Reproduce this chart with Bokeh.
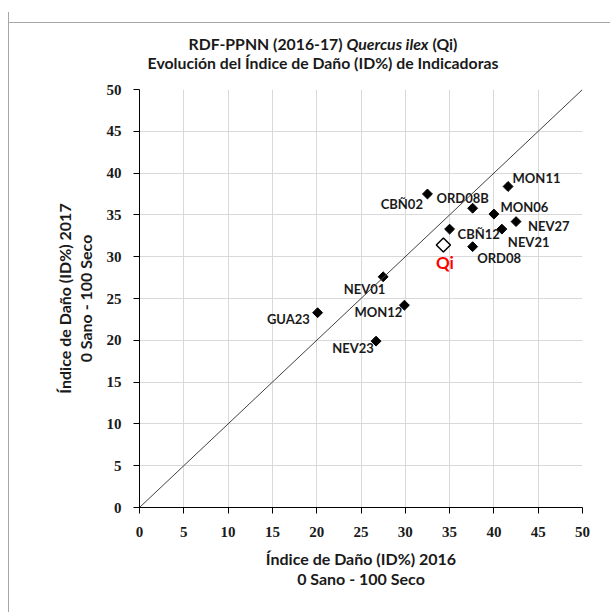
from bokeh.plotting import figure
from bokeh.models import ColumnDataSource, FixedTicker, Slope, Div
from bokeh.layouts import column, row
from bokeh.core.properties import value
from bokeh.embed import file_html
from bokeh.resources import INLINE
import math

# ---- data ----
names = ["MON11", "CBÑ02", "ORD08B", "MON06", "NEV27", "CBÑ12", "NEV21",
         "ORD08", "NEV01", "GUA23", "MON12", "NEV23"]
id2016 = [41.6, 32.5, 37.6, 40.0, 42.5, 35.0, 40.9, 37.6, 27.5, 20.1, 29.9, 26.7]
id2017 = [38.4, 37.5, 35.8, 35.1, 34.2, 33.3, 33.3, 31.2, 27.6, 23.3, 24.2, 19.9]
qi_name = ["Qi"]
qi2016 = [34.3]
qi2017 = [31.4]
ticks = [0, 5, 10, 15, 20, 25, 30, 35, 40, 45, 50]
title_1a = "RDF-PPNN (2016-17)"
title_1b = "Quercus ilex"
title_1c = "(Qi)"
title_2 = "Evolución del Índice de Daño (ID%) de Indicadoras"

# label placement (screen px relative to marker) - style only
lab_dx = [4.5, -4.5, -10, 6.5, 12, 8, 6, 4.5, -18.7, -7.7, -2, -2.3]
lab_dy = [-8.5, 10, -10, -7, 4.5, 5, 13, 11, 12, 6, 7, 6.5]
lab_align = ["left", "right", "center", "left", "left", "left", "left",
             "left", "center", "right", "right", "right"]

FONT = "Lato"
TXT = "#1a1a1a"
BORDER = "#a6a6a6"

p = figure(width=601, height=540, output_backend="svg", toolbar_location=None,
           x_range=(0, 50), y_range=(0, 50),
           min_border_left=130, min_border_right=28, min_border_top=17,
           min_border_bottom=105, margin=0)
p.outline_line_color = None
p.background_fill_color = "white"
p.border_fill_color = "white"

for ax in (p.xaxis, p.yaxis):
    ax.ticker = FixedTicker(ticks=ticks)
    ax.minor_tick_line_color = None
    ax.major_tick_in = 0
    ax.major_tick_out = 6
    ax.axis_line_color = "black"
    ax.major_tick_line_color = "black"
    ax.major_label_text_font = "Liberation Serif"
    ax.major_label_text_font_style = "bold"
    ax.major_label_text_font_size = "15px"
    ax.major_label_text_color = TXT
    ax.axis_label_text_font = FONT
    ax.axis_label_text_font_style = "bold"
    ax.axis_label_text_font_size = "16px"
    ax.axis_label_text_color = TXT
    ax.axis_label_text_line_height = 1.1

p.xaxis.major_label_standoff = 13
p.yaxis.major_label_standoff = 12
p.xaxis.axis_label = "Índice de Daño (ID%) 2016\n0 Sano - 100 Seco"
p.yaxis.axis_label = "Índice de Daño (ID%) 2017\n0 Sano - 100 Seco"
p.xaxis.axis_label_standoff = 9
p.yaxis.axis_label_standoff = 9

p.xgrid.ticker = FixedTicker(ticks=ticks[1:-1])
p.ygrid.ticker = FixedTicker(ticks=ticks[1:])
p.grid.grid_line_color = "#d9d9d9"
p.grid.grid_line_width = 1

# 1:1 line
p.add_layout(Slope(gradient=1, y_intercept=0, line_color="#404040", line_width=1))

src = ColumnDataSource(dict(x=id2016, y=id2017, name=names, dx=lab_dx, dy=lab_dy, al=lab_align))
p.scatter("x", "y", source=src, marker="square", angle=math.pi / 4, size=7,
          fill_color="black", line_color="black")
p.text("x", "y", text="name", source=src, x_offset="dx", y_offset="dy",
       text_align="al", text_baseline="middle", text_font=value(FONT),
       text_font_style="bold", text_font_size="13px", text_color=TXT)

qsrc = ColumnDataSource(dict(x=qi2016, y=qi2017, name=qi_name))
p.scatter("x", "y", source=qsrc, marker="square", angle=math.pi / 4, size=10,
          fill_color="white", line_color="black", line_width=1.5)
p.text("x", "y", text="name", source=qsrc, x_offset=1.5, y_offset=18,
       text_align="center", text_baseline="middle", text_font=value(FONT),
       text_font_style="bold", text_font_size="17px", text_color="#ff0000")

title_html = (
    '<div style="box-sizing:border-box; font-family:Lato; font-weight:bold; font-size:15.8px; '
    'color:%s; text-align:center; line-height:19px; padding-top:22px; padding-left:27px; '
    'width:601px;">%s <i>%s</i> %s<br>%s</div>'
    % (TXT, title_1a, title_1b, title_1c, title_2)
)
title_div = Div(text=title_html, width=601, height=60, margin=0)

top_line = Div(text='<div style="width:602px;height:1px;background:%s"></div>' % BORDER,
               width=602, height=1, margin=0)
left_line = Div(text='<div style="width:1px;height:600px;background:%s"></div>' % BORDER,
                width=1, height=600, margin=0)

layout = column(top_line,
                row(left_line, column(title_div, p, spacing=0, margin=0), spacing=0, margin=0),
                spacing=0, margin=(11, 0, 0, 8))

open("out.html", "w").write(file_html(layout, INLINE))
